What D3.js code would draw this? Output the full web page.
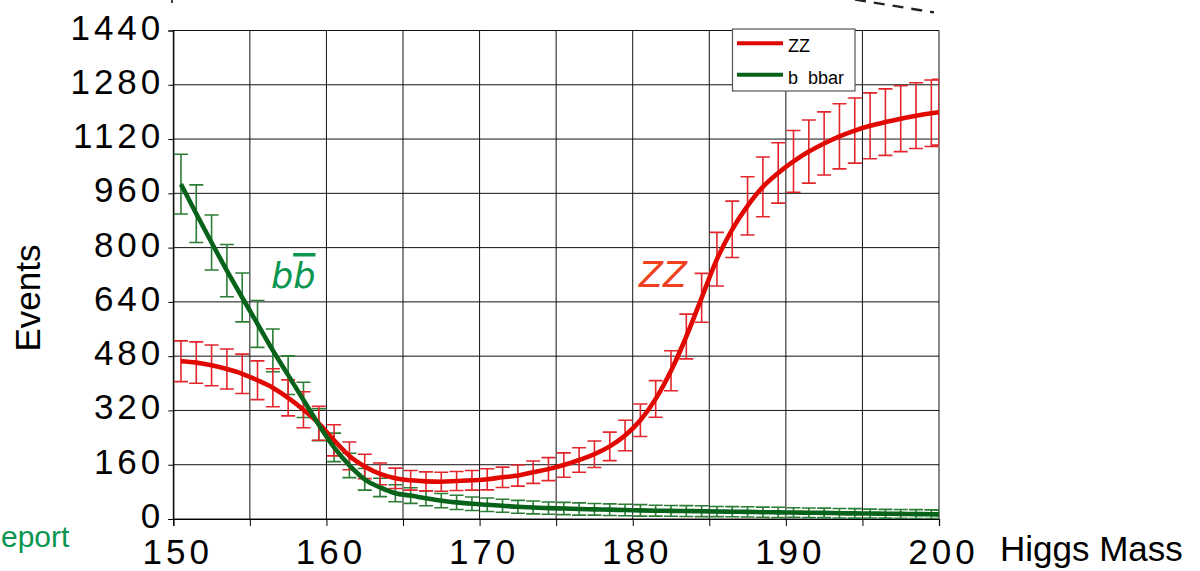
<!DOCTYPE html>
<html>
<head>
<meta charset="utf-8">
<script src="https://cdn.jsdelivr.net/npm/d3@7"></script>
<style>
  html, body { margin: 0; padding: 0; background: #fff; }
  svg { display: block; }
  text { font-family: "Liberation Sans", Arial, sans-serif; }
</style>
</head>
<body>
<svg id="chart" width="1200" height="571"></svg>
<script>
// ---------- data ----------
const masses = [150.5,151.5,152.5,153.5,154.5,155.5,156.5,157.5,158.5,159.5,
  160.5,161.5,162.5,163.5,164.5,165.5,166.5,167.5,168.5,169.5,
  170.5,171.5,172.5,173.5,174.5,175.5,176.5,177.5,178.5,179.5,
  180.5,181.5,182.5,183.5,184.5,185.5,186.5,187.5,188.5,189.5,
  190.5,191.5,192.5,193.5,194.5,195.5,196.5,197.5,198.5,199.5,200];

const zzEvents = [465,461,453,442,428,409,387,357,322,282,
  232,186,155,133,120,114,111,110,112,114,
  117,123,128,138,147,159,174,191,214,246,
  291,354,437,538,652,766,854,923,979,1020,
  1054,1083,1107,1128,1145,1159,1170,1180,1189,1196,1199];

const zzErrors = [60,61,60,59,58,57,56,53,53,50,
  46,41,36,32,30,29,28,28,28,29,
  31,30,31,33,34,36,36,39,42,45,
  48,54,59,66,72,79,83,86,88,89,
  91,93,93,96,96,97,98,97,97,98,97];

const bbEvents = [987,900,815,732,653,575,497,424,351,278,
  211,158,117,93,76,69,61,54,49,45,
  42,39,36,34,32,31,29.5,28.5,27.5,26.5,
  25.5,24.5,24,23.5,23,22,21.5,21,20,19.5,
  19,18.5,18,17,16.5,16,15.5,15,14.5,14,13.5];

const bbErrors = [88,85,81,77,72,69,63,57,52,47,
  42,36,32,27,25,23,22,21,21,20,
  20,19,19,19,18,18,18,17,17,17,
  17,16,16,16,16,15,15,15,15,15,
  14,14,14,14,14,13,13,13,13,13,13];

const seriesNames = ["ZZ", "b  bbar"];
const xTicks = [150,160,170,180,190,200];
const xGrid = [150,155,160,165,170,175,180,185,190,195,200];
const yTicks = [0,160,320,480,640,800,960,1120,1280,1440];
const xTitle = "Higgs Mass";
const yTitle = "Events";

// ---------- layout ----------
const svg = d3.select("#chart");
const pL = 173.3, pR = 939, pT = 30.5, pB = 519;
const x = d3.scaleLinear().domain([150, 200]).range([pL, pR]);
const y = d3.scaleLinear().domain([0, 1440]).range([pB, pT]);

const RED = "#e00800", RED_ERR = "#e3262c";
const GREEN = "#07621a", GREEN_ERR = "#2c7d35";

svg.append("defs").append("clipPath").attr("id", "plotClip")
  .append("rect").attr("x", pL).attr("y", pT - 20)
  .attr("width", pR - pL).attr("height", pB - pT + 20);

// grid
const grid = svg.append("g");
grid.selectAll("line.v").data(xGrid).join("line").attr("class", "v")
  .attr("x1", d => x(d)).attr("x2", d => x(d))
  .attr("y1", pT).attr("y2", pB)
  .attr("stroke", "#111").attr("stroke-width", 1);
grid.selectAll("line.h").data(yTicks).join("line").attr("class", "h")
  .attr("x1", pL).attr("x2", pR)
  .attr("y1", d => y(d)).attr("y2", d => y(d))
  .attr("stroke", "#111").attr("stroke-width", 1);

// axes
const yAxis = svg.append("g").attr("transform", `translate(${pL},0)`)
  .call(d3.axisLeft(y).tickValues(yTicks).tickSize(5).tickPadding(4).tickFormat(d3.format("d")));
yAxis.select(".domain").attr("stroke", "#000").attr("stroke-width", 1.2);
yAxis.selectAll(".tick line").attr("stroke", "#000");
yAxis.selectAll(".tick text")
  .attr("font-size", 35).attr("fill", "#000")
  .style("letter-spacing", "4px")
  .style("font-family", "'Liberation Sans', Arial, sans-serif")
  .attr("dy", null).attr("y", 8.5);

const xAxis = svg.append("g").attr("transform", `translate(0,${pB})`)
  .call(d3.axisBottom(x).tickValues(xGrid).tickSize(7).tickFormat(d => xTicks.includes(d) ? d : ""));
xAxis.select(".domain").attr("stroke", "#000").attr("stroke-width", 1.2);
xAxis.selectAll(".tick line").attr("stroke", "#000");
xAxis.selectAll(".tick text")
  .attr("font-size", 35).attr("fill", "#000")
  .style("letter-spacing", "4px")
  .style("font-family", "'Liberation Sans', Arial, sans-serif")
  .attr("dy", null).attr("y", 45).attr("x", 4);

// axis titles
svg.append("text").attr("x", 1000).attr("y", 561)
  .attr("font-size", 35).attr("fill", "#000").text(xTitle);
svg.append("text").attr("transform", "translate(40,298) rotate(-90)")
  .attr("text-anchor", "middle").attr("font-size", 35).attr("fill", "#000").text(yTitle);

// data
const zz = masses.map((m, i) => ({m, v: zzEvents[i], e: zzErrors[i]}));
const bb = masses.map((m, i) => ({m, v: bbEvents[i], e: bbErrors[i]}));

const plot = svg.append("g").attr("clip-path", "url(#plotClip)");

function errorBars(g, data, color) {
  const cap = 7;
  const eb = g.append("g").attr("stroke", color).attr("stroke-width", 1.6).attr("fill", "none");
  eb.selectAll("path").data(data).join("path")
    .attr("d", d => {
      const cx = x(d.m), y1 = y(d.v + d.e), y2 = y(d.v - d.e);
      return `M${cx},${y1}V${y2}M${cx - cap},${y1}H${cx + cap}M${cx - cap},${y2}H${cx + cap}`;
    });
}
errorBars(plot, bb, GREEN_ERR);
errorBars(plot, zz, RED_ERR);

const line = d3.line().x(d => x(d.m)).y(d => y(d.v)).curve(d3.curveMonotoneX);
plot.append("path").datum(zz).attr("d", line)
  .attr("fill", "none").attr("stroke", RED).attr("stroke-width", 4.6).attr("stroke-linejoin", "round");
plot.append("path").datum(bb).attr("d", line)
  .attr("fill", "none").attr("stroke", GREEN).attr("stroke-width", 4.6).attr("stroke-linejoin", "round");

// legend
const lg = svg.append("g");
lg.append("rect").attr("x", 732.5).attr("y", 29).attr("width", 122.5).attr("height", 62)
  .attr("fill", "#fff").attr("stroke", "#555").attr("stroke-width", 1.2);
const legendColors = [RED, GREEN];
seriesNames.forEach((name, i) => {
  const ly = 43.3 + i * 31.5;
  lg.append("line").attr("x1", 737).attr("x2", 783).attr("y1", ly).attr("y2", ly)
    .attr("stroke", legendColors[i]).attr("stroke-width", 4);
  lg.append("text").attr("x", 788).attr("y", ly + 9).attr("font-size", 18)
    .attr("fill", "#000").style("white-space", "pre").text(name);
});

// annotations
const bbLabel = svg.append("text").attr("x", 271).attr("y", 288)
  .attr("font-size", 35).attr("font-style", "italic").attr("fill", "#0b9650")
  .style("font-family", "'DejaVu Sans', Verdana, sans-serif");
bbLabel.append("tspan").text("b");
bbLabel.append("tspan").style("text-decoration", "overline").text("b");

svg.append("text").attr("x", 639).attr("y", 287)
  .attr("font-size", 35).attr("font-style", "italic").attr("fill", "#f0401f")
  .style("font-family", "'DejaVu Sans', Verdana, sans-serif").text("ZZ");

// fragment of a slide word visible at the left edge
svg.append("text").attr("x", 1).attr("y", 547)
  .attr("font-size", 30).attr("fill", "#0b9650").text("eport");

// slide fragments at the top edge
svg.append("line").attr("x1", 780).attr("y1", -12.6).attr("x2", 934).attr("y2", 12.4)
  .attr("stroke", "#222").attr("stroke-width", 2.4).attr("stroke-dasharray", "11,8");
svg.append("line").attr("x1", 172).attr("x2", 172).attr("y1", -5).attr("y2", 3)
  .attr("stroke", "#000").attr("stroke-width", 1.5);
</script>
</body>
</html>
